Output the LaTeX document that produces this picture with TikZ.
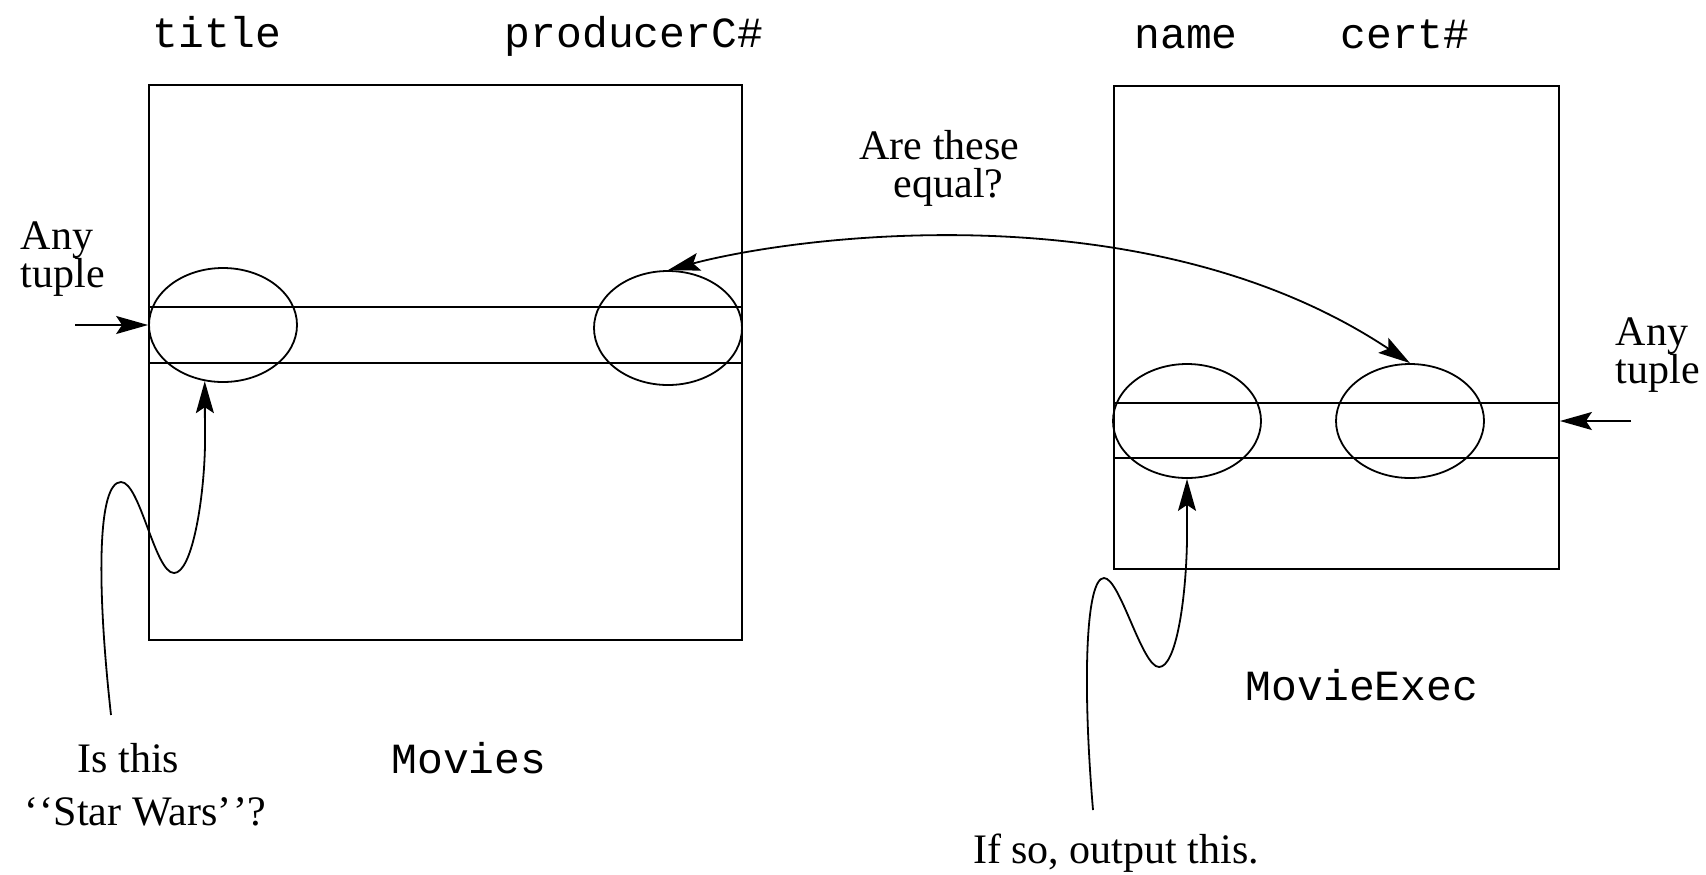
\documentclass[tikz,border=0pt]{standalone}
\usepackage{fontspec}
\setmainfont{Liberation Serif}
\setmonofont{Liberation Mono}
\usetikzlibrary{shapes.geometric,arrows.meta}
\begin{document}
\begin{tikzpicture}[x=0.5pt,y=-0.5pt,line width=0.9pt,
  tip/.tip={Stealth[length=16pt,width=9pt,inset=3pt]},
  arr/.style={-tip},
  biarr/.style={tip-tip},
  relbox/.style={draw,rectangle,inner sep=0pt},
  fieldell/.style={draw,ellipse,minimum width=74pt,minimum height=57pt,inner sep=0pt},
  attr/.style={font=\fontsize{21.5}{24}\ttfamily,inner sep=0pt,anchor=base},
  note/.style={font=\fontsize{21}{24}\selectfont,inner sep=0pt,anchor=base},
  twoline/.style={font={\fontsize{21}{19}\selectfont\lineskiplimit=-30pt},inner sep=0pt}]
\fill[white] (0,0) rectangle (1706,874);
\useasboundingbox (0,0) rectangle (1706,874);

% relation boxes
\node[relbox,minimum width=296.5pt,minimum height=277.5pt] (movies) at (445.5,362.5) {};
\node[relbox,minimum width=222.5pt,minimum height=241.5pt] (exec) at (1336.5,327.5) {};

% tuple rows
\coordinate (ra) at (0,307);
\coordinate (rb) at (0,363);
\coordinate (rc) at (0,403);
\coordinate (rd) at (0,458);
\draw (movies.west |- ra) -- (movies.east |- ra);
\draw (movies.west |- rb) -- (movies.east |- rb);
\draw (exec.west |- rc) -- (exec.east |- rc);
\draw (exec.west |- rd) -- (exec.east |- rd);

% field ellipses
\node[fieldell] (title) at (223,325) {};
\node[fieldell] (prod) at (668,328) {};
\node[fieldell] (name) at (1187,421) {};
\node[fieldell] (cert) at (1410,421) {};

% attribute names
\node[attr] (ttitle) at (217,47) {title};
\node[attr] (tprod) at (634,47) {producerC\#};
\node[attr] (tname) at (1186,48) {name};
\node[attr] (tcert) at (1405,48) {cert\#};
\node[attr] (tmovies) at (469,773) {Movies};
\node[attr] (texec) at (1362,700) {MovieExec};

% notes
\node[twoline,align=left,anchor=base west] (anyL) at (20,287) {Any\\tuple};
\node[twoline,align=left,anchor=base west] (anyR) at (1615,383) {Any\\tuple};
\node[twoline,align=center,anchor=base] (eq) at (939.5,197) {Are these\\\hspace*{0.43em}equal?};
\node[note] (swa) at (128.5,772) {Is this};
\node[note] (swb) at (145,825) {‘\kern1pt‘Star Wars’\kern1pt’?};
\node[note] (out) at (1116,863) {If so, output this.};

% input arrows
\coordinate (inL) at (75,325);
\coordinate (inR) at (1631,421);
\draw[arr] (inL) -- (inL -| movies.west);
\draw[arr] (inR) -- (inR -| exec.east);

% equality arrow
\draw[biarr] (prod.north) .. controls (800,235) and (1150,190) .. (cert.north);

% wiggly pointers
\coordinate (swstart) at (111,715);
\draw[arr] (swstart) .. controls (96,580) and (98,482) .. (121,482)
  .. controls (140,482) and (155,573) .. (174,573)
  .. controls (192,573) and (204,500) .. (205,445) -- (title.252);
\coordinate (outstart) at (1093,810);
\draw[arr] (outstart) .. controls (1082,680) and (1086,578) .. (1104,578)
  .. controls (1120,578) and (1142,667) .. (1159,667)
  .. controls (1176,667) and (1186,600) .. (1187,540) -- (name.south);
\end{tikzpicture}
\end{document}
